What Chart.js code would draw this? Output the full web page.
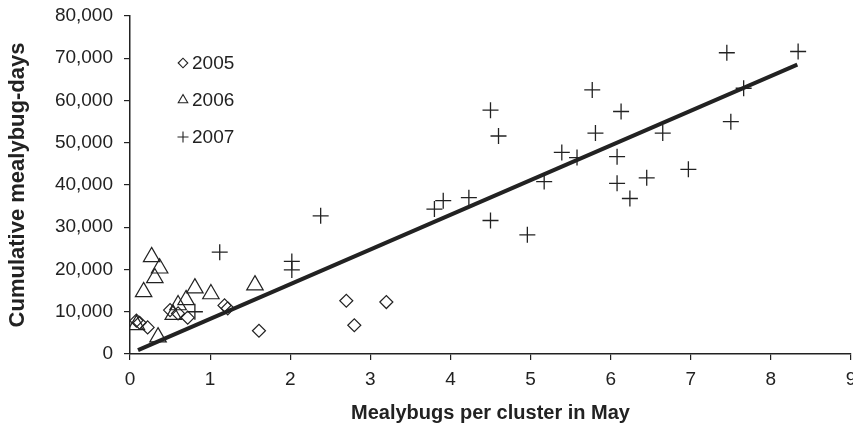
<!DOCTYPE html>
<html>
<head>
<meta charset="utf-8">
<script src="https://cdn.jsdelivr.net/npm/chart.js@4/dist/chart.umd.min.js"></script>
<style>
  html, body { margin: 0; padding: 0; background: #fff; overflow: hidden; }
  #wrap { width: 853px; height: 430px; overflow: hidden; }
</style>
</head>
<body>
<div id="wrap"><canvas id="mealybugs" width="880" height="430"></canvas></div>
<script>
// values
const seriesNames = ['2005', '2006', '2007'];

const x2005 = [0.08, 0.12, 0.22, 0.5, 0.6, 0.72, 1.18, 1.22, 1.61, 2.7, 2.8, 3.2];
const y2005 = [7900, 7400, 6300, 10400, 9600, 8600, 11500, 10800, 5500, 12600, 6800, 12300];

const x2006 = [0.08, 0.17, 0.27, 0.31, 0.37, 0.35, 0.54, 0.6, 0.7, 0.81, 1.01, 1.56];
const y2006 = [6900, 14700, 23000, 18000, 20300, 4000, 9300, 11600, 12800, 15600, 14200, 16300];

const x2007 = [0.81, 1.12, 2.02, 2.02, 2.38, 3.80, 3.91, 4.23, 4.50, 4.50, 4.60, 4.96, 5.17, 5.39,
               5.58, 5.77, 5.81, 6.08, 6.08, 6.13, 6.24, 6.45, 6.65, 6.97, 7.45, 7.50, 7.66, 8.34];
const y2007 = [10000, 24100, 21900, 19900, 32700, 34300, 36300, 37000, 31600, 57700, 51600, 28200, 40800, 47700,
               46500, 62500, 52300, 46700, 40400, 57400, 36800, 41700, 52300, 43700, 71300, 55000, 62900, 71600];

// fitted line, the two ends as drawn
const trendX = [0.1, 8.33];
const trendY = [900, 68500];

const xTicks = [0, 1, 2, 3, 4, 5, 6, 7, 8, 9];
const yMax = 80000;

const ink = '#222';
const font = '"Liberation Sans", Arial, sans-serif';

function pts(xs, ys) {
    return xs.map((x, i) => ({ x: x, y: ys[i] }));
}

// legend sits inside the plot, top left
const insideLegend = {
    id: 'insideLegend',
    afterDatasetsDraw(chart) {
        const { ctx, chartArea } = chart;
        const sizes = [4.8, 5.5, 5.5];
        ctx.save();
        for (let i = 0; i < seriesNames.length; i++) {
            const ds = chart.data.datasets[i];
            const x = chartArea.left + 53;
            const y = chartArea.top + 47 + i * 37;
            ctx.lineWidth = 1.1;
            ctx.strokeStyle = ink;
            ctx.fillStyle = 'rgba(0,0,0,0)';
            Chart.helpers.drawPoint(ctx, { pointStyle: ds.pointStyle, radius: sizes[i], borderWidth: 1.1 }, x, y);
            ctx.fillStyle = ink;
            ctx.font = '19px ' + font;
            ctx.textBaseline = 'middle';
            ctx.fillText(seriesNames[i], x + 9, y + 1);
        }
        ctx.restore();
    }
};

const chrt = new Chart(document.getElementById('mealybugs'), {
    type: 'scatter',
    data: {
        datasets: [{
            label: seriesNames[0],
            data: pts(x2005, y2005),
            pointStyle: 'rectRot',
            pointRadius: 6.5,
            borderColor: ink,
            backgroundColor: 'rgba(0,0,0,0)',
            borderWidth: 1.2
        }, {
            label: seriesNames[1],
            data: pts(x2006, y2006),
            pointStyle: 'triangle',
            pointRadius: 9.5,
            borderColor: ink,
            backgroundColor: 'rgba(0,0,0,0)',
            borderWidth: 1.2
        }, {
            label: seriesNames[2],
            data: pts(x2007, y2007),
            pointStyle: 'cross',
            pointRadius: 8,
            borderColor: ink,
            backgroundColor: 'rgba(0,0,0,0)',
            borderWidth: 1.3
        }, {
            type: 'line',
            label: 'trend',
            data: pts(trendX, trendY),
            borderColor: ink,
            borderWidth: 4,
            pointRadius: 0,
            fill: false
        }]
    },
    plugins: [insideLegend],
    options: {
        responsive: false,
        animation: false,
        layout: { padding: { top: 16, right: 29, bottom: 0, left: 0 } },
        plugins: {
            legend: { display: false },
            tooltip: { enabled: false }
        },
        scales: {
            x: {
                type: 'linear',
                min: 0,
                max: 9,
                afterBuildTicks: (s) => { s.ticks = xTicks.map(v => ({ value: v })); },
                afterFit: (s) => { s.height = 76; s.paddingLeft = 0; s.paddingRight = 0; },
                grid: { drawOnChartArea: false, drawTicks: true, tickLength: 6, color: ink, lineWidth: 1.2 },
                border: { display: true, color: ink, width: 1.5 },
                ticks: { color: ink, padding: 8, font: { family: font, size: 19 } },
                title: {
                    display: true,
                    text: 'Mealybugs per cluster in May',
                    color: ink,
                    padding: { top: 0, bottom: 5 },
                    font: { family: font, size: 20, weight: 'bold' }
                }
            },
            y: {
                min: 0,
                max: yMax,
                afterFit: (s) => { s.width = 130; s.paddingTop = 0; s.paddingBottom = 0; },
                grid: { drawOnChartArea: false, drawTicks: true, tickLength: 6, color: ink, lineWidth: 1.2 },
                border: { display: true, color: ink, width: 1.5 },
                ticks: { stepSize: 10000, color: ink, padding: 11, font: { family: font, size: 19 } },
                title: {
                    display: true,
                    text: 'Cumulative mealybug-days',
                    color: ink,
                    padding: { top: 5, bottom: 0 },
                    font: { family: font, size: 22, weight: 'bold' }
                }
            }
        }
    }
});
</script>
</body>
</html>
